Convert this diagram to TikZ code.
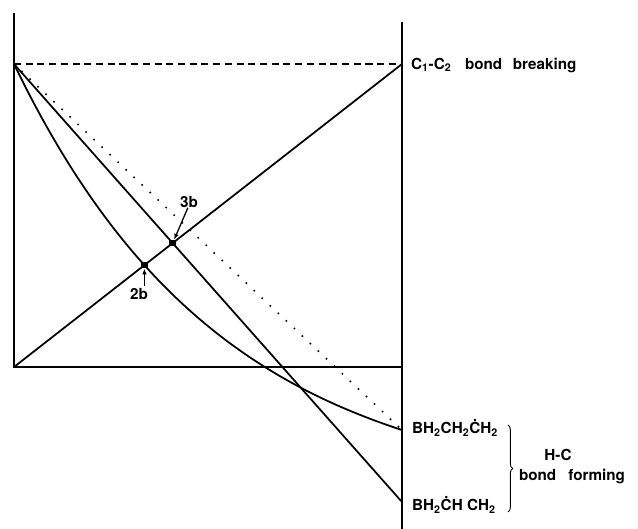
\documentclass[tikz,border=0pt]{standalone}
\usepackage{fontspec}
\setmainfont{TeX Gyre Heros}
\usetikzlibrary{arrows.meta,positioning,calc,intersections,decorations.pathreplacing}

\begin{document}
\begin{tikzpicture}[x=0.03cm,y=-0.03cm,
    lbl/.style={font=\fontsize{13}{15}\selectfont\bfseries,inner sep=0pt},
    ln/.style={line width=1.5pt},
    pt/.style={rectangle,fill,inner sep=0pt,minimum size=5.5pt},
    arr/.style={line width=1.1pt,-{Latex[length=5pt,width=4pt]}}]
  \useasboundingbox (0,0) rectangle (638,529);
  \coordinate (LT) at (14,13);
  \coordinate (LB) at (14,367);
  \coordinate (LR) at (14,64);
  \coordinate (RT) at (402,22);
  \coordinate (RB) at (402,529);
  \coordinate (RH) at (402,367);
  \coordinate (RD) at (402,64);
  \coordinate (RC) at (402,430);
  \coordinate (RS) at (402,502);
  \draw[ln] (LT)--(LB)--(RH);
  \draw[ln] (RT)--(RB);
  \draw[ln,dash pattern=on 6pt off 4pt] (LR)--(RD);
  \draw[ln,name path=rise] (LB)--(RD);
  \draw[ln] (LR)--(RS);
  \draw[ln,name path=crv] plot[domain=14:402,samples=80,smooth]
    (\x,{64+434*(1-exp(-0.00478*(\x-14)))});
  \draw[line width=1.9pt,line cap=round,dash pattern=on 0pt off 9.4pt] (LR)--(RC);
  \path[name intersections={of=rise and crv,by=P2}];
  \coordinate (P3) at (intersection of LB--RD and LR--RS);
  \node[pt] (p2) at (P2) {};
  \node[pt] (p3) at (P3) {};
  \node[lbl] (l2b) at (139,294) {2b};
  \node[lbl] (l3b) at (189,202) {3b};
  \draw[arr] ([yshift=2pt]l2b.north -| p2) -- (p2);
  \draw[arr] ([xshift=-1pt]l3b.south) -- (p3);
  \node[lbl,anchor=west] (brk) at (411,65)
    {C\textsubscript{1}-C\textsubscript{2}\hspace{0.9em}bond\hspace{0.7em}breaking};
  \node[lbl,anchor=west] (prim) at (412,428)
    {BH\textsubscript{2}CH\textsubscript{2}\.{C}H\textsubscript{2}};
  \node[lbl,anchor=west] (sec) at (412,505)
    {BH\textsubscript{2}\.{C}H CH\textsubscript{2}};
  \coordinate (BrT) at (508,425);
  \coordinate (BrB) at (508,512);
  \draw[line width=0.8pt,decorate,decoration={brace,amplitude=4pt}] (BrT)--(BrB);
  \node[lbl] (hc) at (558,455) {H-C};
  \node[lbl] (bf) at (572,476) {bond\hspace{0.8em}forming};
\end{tikzpicture}
\end{document}
